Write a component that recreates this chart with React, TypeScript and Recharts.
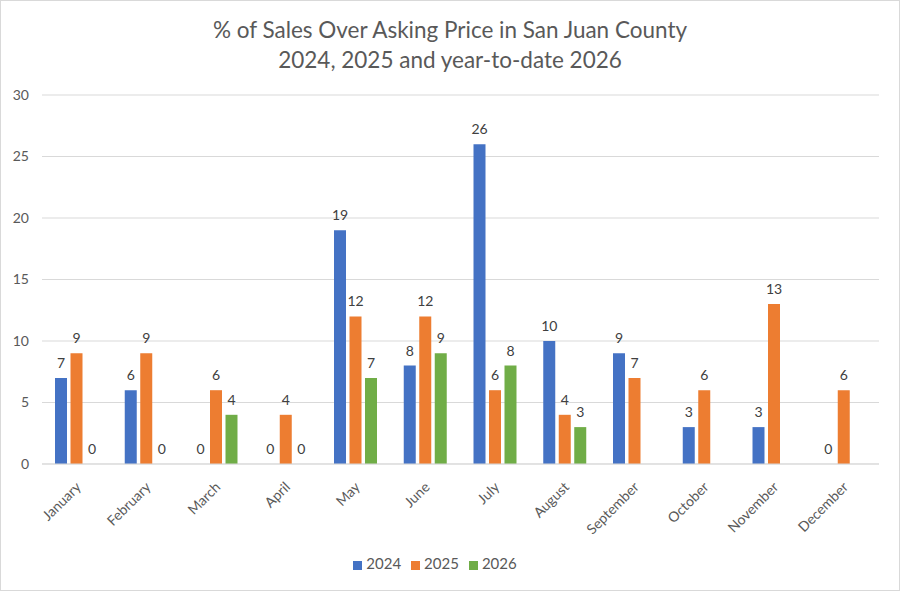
import React from 'react';
import { BarChart, Bar, XAxis, YAxis, CartesianGrid, Legend, LabelList } from 'recharts';

const months = ['January', 'February', 'March', 'April', 'May', 'June', 'July', 'August', 'September', 'October', 'November', 'December'];
const sales2024 = [7, 6, 0, 0, 19, 8, 26, 10, 9, 3, 3, 0];
const sales2025 = [9, 9, 6, 4, 12, 12, 6, 4, 7, 6, 13, 6];
const sales2026 = [0, 0, 4, 0, 7, 9, 8, 3, null, null, null, null];
const yTicks = [0, 5, 10, 15, 20, 25, 30];

const data = months.map((m, i) => ({ month: m, y2024: sales2024[i], y2025: sales2025[i], y2026: sales2026[i] }));

const FONT = 'Lato, "Liberation Sans", sans-serif';
const GREY = '#595959';

const MonthTick = (props: any) => {
  const { x, y, payload } = props;
  return (
    <text
      x={x + 5}
      y={y + 16}
      transform={`rotate(-45, ${x + 5}, ${y + 16})`}
      textAnchor="end"
      fontSize={14}
      fill={GREY}
      fontFamily={FONT}
    >
      {payload.value}
    </text>
  );
};

// draws the value above each bar, zeros included, skips missing months
const ValueLabel = (props: any) => {
  const { x, y, width, value } = props;
  if (value == null) return null;
  return (
    <text x={x + width / 2} y={y - 10} textAnchor="middle" fontSize={14} fill="#404040" fontFamily={FONT}>
      {String(value)}
    </text>
  );
};

// tiny height for zero values so recharts keeps the rect (and its label)
const keepZero = (v: any) => (v === 0 ? 0.01 : 0);

export default function App() {
  return (
    <div style={{ position: 'absolute', top: 0, left: 0, width: 900, height: 591, boxSizing: 'border-box', border: '1px solid #d9d9d9', background: '#fff', fontFamily: FONT }}>
      <div style={{ position: 'absolute', top: 14, left: 0, width: 898, textAlign: 'center', color: GREY, fontSize: 22.5, lineHeight: '30px' }}>
        <div>% of Sales Over Asking Price in San Juan County</div>
        <div>2024, 2025 and year-to-date 2026</div>
      </div>
      <BarChart
        width={898}
        height={589}
        data={data}
        margin={{ top: 94, right: 20, left: 0, bottom: 0 }}
        barGap={3.5}
        barSize={12}
      >
        <CartesianGrid vertical={false} stroke="#d9d9d9" />
        <XAxis
          dataKey="month"
          interval={0}
          height={80}
          tick={<MonthTick />}
          tickLine={false}
          axisLine={{ stroke: '#d9d9d9' }}
        />
        <YAxis
          width={41}
          domain={[0, 30]}
          ticks={yTicks}
          tickSize={0}
          tickMargin={13}
          axisLine={false}
          tickLine={false}
          tick={{ fill: GREY, fontSize: 14, fontFamily: FONT }}
        />
        <Legend
          verticalAlign="bottom"
          height={36}
          iconType="square"
          iconSize={9}
          wrapperStyle={{ fontSize: 15, color: GREY, paddingTop: 10 }}
          formatter={(v: any) => <span style={{ color: GREY }}>{v}</span>}
        />
        <Bar dataKey="y2024" name="2024" fill="#4472C4" minPointSize={keepZero} isAnimationActive={false}>
          <LabelList dataKey="y2024" content={<ValueLabel />} />
        </Bar>
        <Bar dataKey="y2025" name="2025" fill="#ED7D31" minPointSize={keepZero} isAnimationActive={false}>
          <LabelList dataKey="y2025" content={<ValueLabel />} />
        </Bar>
        <Bar dataKey="y2026" name="2026" fill="#70AD47" minPointSize={keepZero} isAnimationActive={false}>
          <LabelList dataKey="y2026" content={<ValueLabel />} />
        </Bar>
      </BarChart>
    </div>
  );
}
